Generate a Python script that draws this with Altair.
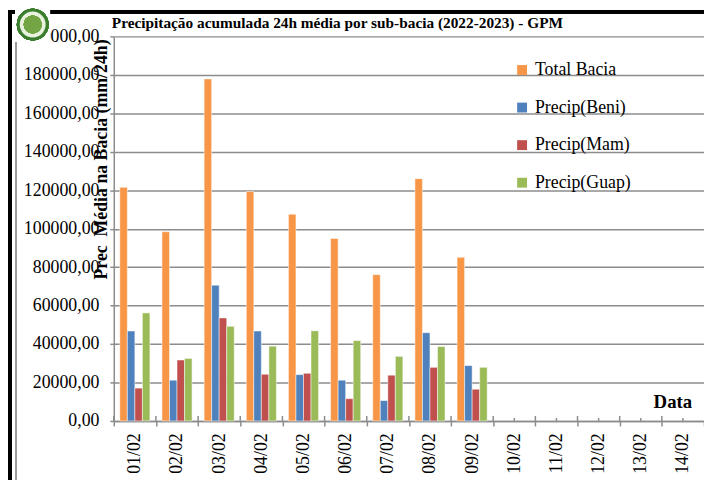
import altair as alt
import pandas as pd

dates = ["01/02", "02/02", "03/02", "04/02", "05/02", "06/02", "07/02",
         "08/02", "09/02", "10/02", "11/02", "12/02", "13/02", "14/02"]
series = ["Total Bacia", "Precip(Beni)", "Precip(Mam)", "Precip(Guap)"]
colors = ["#F79646", "#4F81BD", "#C0504D", "#9BBB59"]

total = [121500, 98400, 177900, 119300, 107500, 94900, 76100, 126000, 85100]
beni = [46800, 21200, 70600, 46800, 24100, 21200, 10600, 45900, 28800]
mam = [17100, 31700, 53600, 24300, 24800, 11600, 23800, 27900, 16500]
guap = [56200, 32500, 49200, 38900, 46900, 41800, 33600, 38700, 27900]
y_ticks = list(range(0, 200001, 20000))
title_text = "Precipitação acumulada 24h média por sub-bacia (2022-2023) - GPM"

rows = []
for name, vals in zip(series, [total, beni, mam, guap]):
    for d, v in zip(dates, vals):
        rows.append({"date": d, "serie": name, "valor": v})
df = pd.DataFrame(rows)
ddf = pd.DataFrame({"date": dates})
tdf = pd.DataFrame({"t": [title_text]})

W, H = 597, 389
SERIF = "Liberation Serif"
GRAY = "#8c8c8c"

xscale = alt.Scale(domain=dates, paddingInner=0, paddingOuter=0)

xaxis = alt.Axis(
    title="Data", titleX=565, titleY=-14, titleBaseline="alphabetic", titleAlign="center",
    titleFont=SERIF, titleFontSize=19, titleFontWeight="bold", titleColor="black",
    labelAngle=270, labelFont=SERIF, labelFontSize=18, labelColor="black", labelPadding=7,
    tickSize=5, tickColor=GRAY, tickWidth=1.5, tickBand="extent",
    domainColor=GRAY, domainWidth=1.5, grid=False,
)
yaxis = alt.Axis(
    values=y_ticks,
    labelExpr="replace(format(datum.value, '.2f'), '.', ',')",
    labelFont=SERIF, labelFontSize=18, labelColor="black", labelPadding=11,
    tickSize=4, tickColor=GRAY, tickWidth=1.5,
    domainColor=GRAY, domainWidth=1.5,
    grid=True, gridColor=GRAY, gridWidth=1.5,
    title="Prec\u00a0\u00a0Média na Bacia (mm/24h)", titleX=-12, titleY=124, titleAngle=270,
    titleBaseline="middle", titleAlign="center",
    titleFont=SERIF, titleFontSize=18, titleFontWeight="bold", titleColor="black",
)

minor = alt.Chart(ddf).mark_rule(color=GRAY, strokeWidth=1.5).encode(
    x=alt.X("date:N", scale=xscale, axis=xaxis),
    y=alt.value(H), y2=alt.value(H - 3),
)
major_up = alt.Chart(ddf).mark_rule(color=GRAY, strokeWidth=1.5, xOffset=-W / 28).encode(
    x=alt.X("date:N", scale=xscale, axis=xaxis),
    y=alt.value(H), y2=alt.value(H - 5),
)

bars = alt.Chart(df).mark_bar(stroke="white", strokeWidth=0.5).encode(
    x=alt.X("date:N", scale=xscale, axis=xaxis),
    xOffset=alt.XOffset("serie:N", scale=alt.Scale(domain=series, paddingInner=0, paddingOuter=0.8)),
    y=alt.Y("valor:Q", scale=alt.Scale(domain=[0, 200000], nice=False), axis=yaxis),
    color=alt.Color("serie:N", scale=alt.Scale(domain=series, range=colors),
                    legend=alt.Legend(orient="none", legendX=404, legendY=25, title=None,
                                      symbolType="square", symbolSize=100, symbolStrokeWidth=0,
                                      labelFont=SERIF, labelFontSize=18, labelColor="black",
                                      rowPadding=20, padding=0, labelOffset=4)),
)

# chart title as a text annotation above the plot
title = alt.Chart(tdf).mark_text(font=SERIF, fontSize=15.5, fontWeight="bold", color="black",
                                 align="left", baseline="alphabetic").encode(
    text="t:N", x=alt.value(-2), y=alt.value(-8))

# decorations: page border lines and logo
top_line = alt.Chart(ddf).mark_rule(color="black", strokeWidth=3).encode(
    x=alt.value(-107), x2=alt.value(W), y=alt.value(-25))
left_line = alt.Chart(ddf).mark_rule(color="black", strokeWidth=3).encode(
    x=alt.value(-105), y=alt.value(-26), y2=alt.value(H + 60))
gray_line = alt.Chart(ddf).mark_rule(color="#9a9a9a", strokeWidth=1).encode(
    x=alt.value(-99), y=alt.value(-24), y2=alt.value(H + 60))
logo_bg = alt.Chart(ddf).mark_square(color="white", opacity=1, size=1225).encode(
    x=alt.value(-82), y=alt.value(-12))
logo_out = alt.Chart(ddf).mark_circle(fill="#e9f1df", stroke="#3b7f2e", strokeWidth=3,
                                      opacity=1, size=850).encode(
    x=alt.value(-82), y=alt.value(-12))
logo_in = alt.Chart(ddf).mark_circle(color="#74a544", opacity=1, size=330).encode(
    x=alt.value(-82), y=alt.value(-12))

chart = alt.layer(minor, major_up, bars, title, top_line, left_line, gray_line,
                  logo_bg, logo_out, logo_in).properties(
    width=W, height=H,
    autosize=alt.AutoSizeParams(type="none"),
    padding={"left": 107, "top": 26, "right": 0, "bottom": 57},
    background="white",
).configure_view(stroke=None)

chart.save("out.html", embed_options={"renderer": "svg", "actions": False})
